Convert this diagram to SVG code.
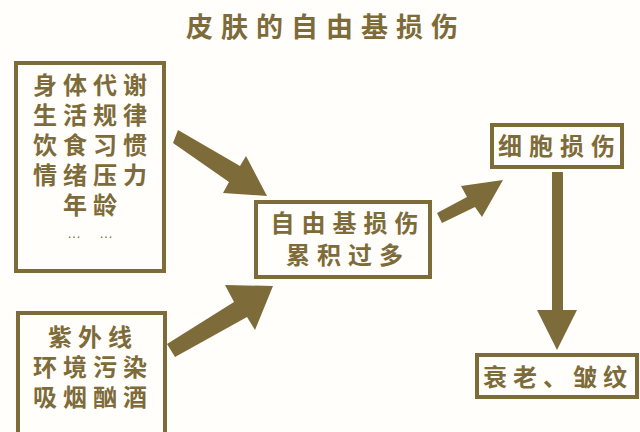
<svg xmlns="http://www.w3.org/2000/svg" width="640" height="432" viewBox="0 0 640 432">
<style>
.bg{fill:#fffefb}
.box{fill:none;stroke:#7e6b3a;stroke-width:4}
.arrow{fill:#7e6b3a}
text{font-family:"Liberation Sans","Noto Sans CJK SC","Noto Sans",sans-serif;font-weight:bold;fill:#7e6b3a;text-anchor:middle;dominant-baseline:central}
.t{font-size:27px;letter-spacing:8px}
.n{font-size:24px;letter-spacing:6px}
.m{font-size:24px;letter-spacing:7px}
.d{font-size:14px;font-weight:normal}
</style>
<rect class="bg" x="0" y="0" width="640" height="432"/>
<text class="t" x="326" y="28">皮肤的自由基损伤</text>
<g id="factors-internal">
<rect class="box" x="16" y="63" width="148" height="208"/>
<text class="n" x="93" y="85">身体代谢</text>
<text class="n" x="93" y="115">生活规律</text>
<text class="n" x="93" y="145">饮食习惯</text>
<text class="n" x="93" y="175">情绪压力</text>
<text class="n" x="93" y="205">年龄</text>
<text class="d" x="74" y="233">…</text>
<text class="d" x="106" y="233">…</text>
</g>
<g id="factors-external">
<rect class="box" x="18" y="313" width="147" height="130"/>
<text class="n" x="93" y="337">紫外线</text>
<text class="n" x="93" y="367">环境污染</text>
<text class="n" x="93" y="397">吸烟酗酒</text>
</g>
<g id="free-radical">
<rect class="box" x="256" y="202" width="174" height="75"/>
<text class="m" x="348" y="223">自由基损伤</text>
<text class="m" x="348" y="255">累积过多</text>
</g>
<g id="cell-damage">
<rect class="box" x="492" y="125" width="130" height="42"/>
<text class="m" x="560" y="146">细胞损伤</text>
</g>
<g id="aging">
<rect class="box" x="477" y="355" width="160" height="42"/>
<text class="n" x="558" y="377">衰老、皱纹</text>
</g>
<g id="connectors">
<polygon class="arrow" points="178,130 240,166 246,156 267,196 223,193 229,182 173,143"/>
<polygon class="arrow" points="167,344 234,302 225,285 273,286 255,330 247,317 175,357"/>
<polygon class="arrow" points="437,213 467,197 461,186 503,180 482,217 475,207 442,223"/>
<polygon class="arrow" points="552,172 563,172 563,310 577,310 557,350 537,310 552,310"/>
</g>
</svg>
